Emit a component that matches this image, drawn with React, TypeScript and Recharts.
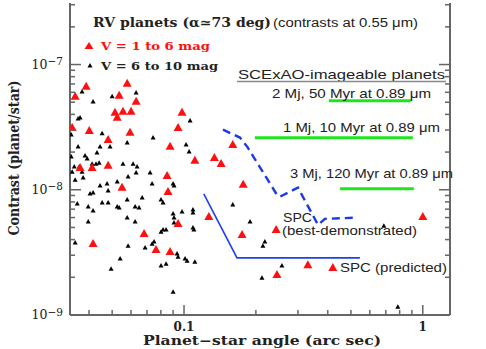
import { ComposedChart, Scatter, XAxis, YAxis } from "recharts";

// angular separation (arcsec), contrast (planet/star)
const brightStars: [number, number][] = [
  [0.035, 5.55e-8], [0.0389, 6.67e-8], [0.0578, 7.05e-8], [0.0535, 5.65e-8],
  [0.063, 5.06e-8], [0.0514, 4.13e-8], [0.0555, 4.21e-8], [0.06, 4.21e-8],
  [0.0525, 3.77e-8], [0.034, 3.13e-8], [0.0401, 2.96e-8], [0.0594, 2.86e-8],
  [0.0481, 2.51e-8], [0.0981, 4.13e-8], [0.0944, 3.13e-8], [0.0874, 2.21e-8],
  [0.111, 1.71e-8], [0.134, 1.8e-8], [0.143, 1.61e-8], [0.16, 2.29e-8],
  [0.0367, 1.5e-8], [0.0849, 1.29e-8], [0.0412, 1.5e-8], [0.0481, 1.56e-8],
  [0.055, 1.04e-8], [0.0857, 9.64e-9], [0.177, 1.1e-8], [0.127, 6.08e-9],
  [0.0944, 5.35e-9], [0.068, 4.45e-9], [0.0416, 3.7e-9], [0.0763, 3.31e-9],
  [0.0874, 3.19e-9], [0.175, 4.37e-9], [0.243, 4.79e-9], [0.245, 2.09e-9],
  [0.33, 2.51e-9], [0.42, 2.38e-9], [1.0, 6.08e-9],
];

const faintStars: [number, number][] = [
  [0.0374, 6.08e-8], [0.0416, 5.06e-8], [0.05, 5.55e-8], [0.063, 5.97e-8],
  [0.0367, 3.77e-8], [0.036, 3.7e-8], [0.0337, 2.75e-8], [0.0454, 2.81e-8],
  [0.0578, 2.38e-8], [0.0742, 2.61e-8], [0.106, 3.56e-8], [0.102, 2.29e-8],
  [0.105, 2.01e-8], [0.0445, 2.21e-8], [0.049, 2.21e-8], [0.036, 2.21e-8],
  [0.0385, 1.87e-8], [0.0393, 1.77e-8], [0.0432, 1.98e-8], [0.0441, 1.64e-8],
  [0.0428, 1.61e-8], [0.0412, 1.61e-8], [0.0347, 1.53e-8], [0.0364, 1.53e-8],
  [0.0555, 1.61e-8], [0.0612, 1.61e-8], [0.0636, 1.53e-8], [0.063, 1.37e-8],
  [0.0721, 1.37e-8], [0.0337, 1.84e-8], [0.034, 1.39e-8], [0.0374, 1.39e-8],
  [0.0583, 1.27e-8], [0.035, 1.2e-8], [0.0378, 1.25e-8], [0.0445, 1.08e-8],
  [0.0476, 1.12e-8], [0.0481, 9.82e-9], [0.0525, 1.16e-8], [0.0416, 9.46e-9],
  [0.0404, 9.29e-9], [0.0578, 8.32e-9], [0.0668, 8.63e-9], [0.0357, 7.73e-9],
  [0.0397, 7.31e-9], [0.0454, 7.87e-9], [0.0481, 7.87e-9], [0.0525, 7.31e-9],
  [0.0535, 7.18e-9], [0.0624, 7.31e-9], [0.0648, 7.18e-9], [0.0416, 6.79e-9],
  [0.0578, 5.97e-9], [0.0624, 5.55e-9], [0.0735, 1.12e-8], [0.09, 1.12e-8],
  [0.0908, 1.08e-8], [0.0801, 8.32e-9], [0.0817, 7.87e-9], [0.09, 6.43e-9],
  [0.0981, 6.67e-9], [0.0908, 5.97e-9], [0.0908, 5.45e-9], [0.109, 6.92e-9],
  [0.109, 6.55e-9], [0.109, 4.97e-9], [0.11, 4.79e-9], [0.0397, 5.55e-9],
  [0.035, 3.77e-9], [0.0583, 3.56e-9], [0.0687, 3.44e-9], [0.0735, 3.7e-9],
  [0.0749, 3.84e-9], [0.054, 2.81e-9], [0.0495, 2.33e-9], [0.0801, 2.47e-9],
  [0.0841, 2.56e-9], [0.0801, 4.61e-9], [0.0817, 4.79e-9], [0.0841, 4.79e-9],
  [0.0935, 3.08e-9], [0.0944, 2.91e-9], [0.101, 2.81e-9], [0.103, 2.7e-9],
  [0.111, 2.65e-9], [0.09, 1.53e-9], [0.16, 7.59e-9], [0.189, 5.55e-9],
  [0.214, 3.56e-9], [0.218, 3.84e-9], [0.257, 2.47e-9], [0.212, 1.98e-9],
  [0.687, 5.15e-9], [0.786, 1.16e-9],
];

const spcBest: [number, number][] = [
  [0.1456, 3.02e-8], [0.1715, 2.61e-8], [0.185, 2.17e-8], [0.245, 9.12e-9],
  [0.252, 8.79e-9], [0.3, 1.04e-8], [0.364, 5.25e-9], [0.389, 5.86e-9],
  [0.509, 5.97e-9],
];

const spcPredicted: [number, number][] = [
  [0.121, 9.29e-9], [0.1667, 2.86e-9], [0.545, 2.86e-9],
];

// SCExAO-imageable planet contrast levels
const trackStart = [0.404, 0.198, 0.45];
const trackEnd = [0.891, 0.908, 0.917];
const trackContrast = [5.15e-8, 2.6e-8, 1.02e-8];

const xTicks = [0.04, 0.05, 0.06, 0.07, 0.08, 0.09, 0.1, 0.2, 0.3, 0.4, 0.5, 0.6, 0.7, 0.8, 0.9, 1];
const yTicks = [
  1e-9, 2e-9, 3e-9, 4e-9, 5e-9, 6e-9, 7e-9, 8e-9, 9e-9,
  1e-8, 2e-8, 3e-8, 4e-8, 5e-8, 6e-8, 7e-8, 8e-8, 9e-8,
  1e-7, 2e-7, 3e-7,
];

const pts = (a: [number, number][]) => a.map(([x, y]) => ({ x, y }));
const isMajor = (v: number) => Math.abs(Math.log10(v) - Math.round(Math.log10(v))) < 1e-6;

const AXIS = "#666";
const SERIF = "'DejaVu Serif', serif";
const SANS = "'Liberation Sans', Arial, sans-serif";

const tri = (w: number, h: number, fill: string) => (p: any) => {
  const { cx, cy } = p;
  return (
    <polygon
      points={`${cx},${cy - h * 0.6} ${cx - w / 2},${cy + h * 0.4} ${cx + w / 2},${cy + h * 0.4}`}
      fill={fill}
    />
  );
};
const noDot = () => <g />;

const BottomTick = ({ x, y, payload }: any) => {
  const major = isMajor(payload.value);
  return (
    <g>
      <line x1={x} x2={x} y1={y} y2={y - (major ? 10 : 5)} stroke={AXIS} strokeWidth={1.5} />
      {major && (
        <text x={x} y={y + 16} textAnchor="middle" fontFamily={SERIF} fontWeight="bold" fontSize={12} fill="#222">
          {payload.value >= 1 ? "1" : String(payload.value)}
        </text>
      )}
    </g>
  );
};

const TopTick = ({ x, y, payload }: any) => {
  const major = isMajor(payload.value);
  return <line x1={x} x2={x} y1={y} y2={y + (major ? 10 : 5)} stroke={AXIS} strokeWidth={1.5} />;
};

const LeftTick = ({ x, y, payload }: any) => {
  const major = isMajor(payload.value);
  const exp = Math.round(Math.log10(payload.value));
  return (
    <g>
      <line x1={x} x2={x + (major ? 11 : 5)} y1={y} y2={y} stroke={AXIS} strokeWidth={1.5} />
      {major && (
        <text x={x - 7} y={y + 4} textAnchor="end" fontFamily={SERIF} fontSize={12.5} fill="#222">
          <tspan>10</tspan>
          <tspan dy={-3.5} fontSize={10.5}>{"\u2212" + Math.abs(exp)}</tspan>
        </text>
      )}
    </g>
  );
};

const RightTick = ({ x, y, payload }: any) => {
  const major = isMajor(payload.value);
  return <line x1={x} x2={x - (major ? 11 : 5)} y1={y} y2={y} stroke={AXIS} strokeWidth={1.5} />;
};

const X_DOMAIN = [0.0333, 1.3];
const Y_DOMAIN = [1e-9, 3.1e-7];

export default function App() {
  return (
    <div style={{ position: "absolute", left: 0, top: 0, width: 486, height: 349, background: "#fff" }}>
      <ComposedChart width={486} height={349} margin={{ top: 3, right: 0, bottom: 0, left: 0 }}>
        <XAxis
          xAxisId="b" dataKey="x" type="number" scale="log" domain={X_DOMAIN} allowDataOverflow
          ticks={xTicks} interval={0} height={34} tickSize={0} tickMargin={0}
          axisLine={{ stroke: AXIS, strokeWidth: 2 }} tickLine={false} tick={<BottomTick />}
        />
        <XAxis
          xAxisId="t" orientation="top" type="number" scale="log" domain={X_DOMAIN} allowDataOverflow
          ticks={xTicks} interval={0} height={0} tickSize={0} tickMargin={0}
          axisLine={{ stroke: AXIS, strokeWidth: 2 }} tickLine={false} tick={<TopTick />}
        />
        <YAxis
          yAxisId="l" dataKey="y" type="number" scale="log" domain={Y_DOMAIN} allowDataOverflow
          ticks={yTicks} interval={0} width={70} tickSize={0} tickMargin={0}
          axisLine={{ stroke: AXIS, strokeWidth: 2 }} tickLine={false} tick={<LeftTick />}
        />
        <YAxis
          yAxisId="r" orientation="right" type="number" scale="log" domain={Y_DOMAIN} allowDataOverflow
          ticks={yTicks} interval={0} width={36} tickSize={0} tickMargin={0}
          axisLine={{ stroke: AXIS, strokeWidth: 2 }} tickLine={false} tick={<RightTick />}
        />
        {trackContrast.map((c, i) => (
          <Scatter
            key={"trk" + i} xAxisId="b" yAxisId="l"
            data={[{ x: trackStart[i], y: c }, { x: trackEnd[i], y: c }]}
            line={{ stroke: "#1ee61e", strokeWidth: 3 }} lineType="joint" shape={noDot}
            isAnimationActive={false}
          />
        ))}
        <Scatter
          xAxisId="b" yAxisId="l" data={pts(spcPredicted)}
          line={{ stroke: "#2040f0", strokeWidth: 1.6 }} lineType="joint" shape={noDot}
          isAnimationActive={false}
        />
        <Scatter
          xAxisId="b" yAxisId="l" data={pts(spcBest)}
          line={{ stroke: "#1a3ae8", strokeWidth: 2.4, strokeDasharray: "8 5" }} lineType="joint" shape={noDot}
          isAnimationActive={false}
        />
        <Scatter xAxisId="b" yAxisId="l" data={pts(faintStars)} shape={tri(5, 4.5, "#000")} isAnimationActive={false} />
        <Scatter xAxisId="b" yAxisId="l" data={pts(brightStars)} shape={tri(9, 8, "#ff1010")} isAnimationActive={false} />
      </ComposedChart>
      <svg width={486} height={349} style={{ position: "absolute", left: 0, top: 0, pointerEvents: "none" }}>
        <text x={93} y={27} fontFamily={SERIF} fontWeight="bold" fontSize={12.5} fill="#222" textLength={178} lengthAdjust="spacingAndGlyphs">
          RV planets (α≃73 deg)
        </text>
        <text x={273} y={26.5} fontFamily={SANS} fontSize={12.5} fill="#222" textLength={145} lengthAdjust="spacingAndGlyphs">
          (contrasts at 0.55 μm)
        </text>
        <polygon points="89,42 84.5,49 93.5,49" fill="#ff1010" />
        <text x={101} y={50} fontFamily={SERIF} fontWeight="bold" fontSize={11.5} fill="#ff1010" textLength={109} lengthAdjust="spacingAndGlyphs">
          V = 1 to 6 mag
        </text>
        <polygon points="90,63 87.5,67.5 92.5,67.5" fill="#000" />
        <text x={101} y={70} fontFamily={SERIF} fontWeight="bold" fontSize={11.5} fill="#222" textLength={117} lengthAdjust="spacingAndGlyphs">
          V = 6 to 10 mag
        </text>
        <text x={238} y={79} fontFamily={SANS} fontSize={13} fill="#222" textLength={207} lengthAdjust="spacingAndGlyphs">
          SCExAO-imageable planets
        </text>
        <line x1={237} x2={446} y1={81.5} y2={81.5} stroke="#888" strokeWidth={1.5} />
        <text x={272} y={98} fontFamily={SANS} fontSize={13} fill="#222" textLength={159} lengthAdjust="spacingAndGlyphs">
          2 Mj, 50 Myr at 0.89 μm
        </text>
        <text x={283} y={132} fontFamily={SANS} fontSize={13} fill="#222" textLength={157} lengthAdjust="spacingAndGlyphs">
          1 Mj, 10 Myr at 0.89 μm
        </text>
        <text x={290} y={178} fontFamily={SANS} fontSize={13} fill="#222" textLength={163} lengthAdjust="spacingAndGlyphs">
          3 Mj, 120 Myr at 0.89 μm
        </text>
        <text x={283} y={222} fontFamily={SANS} fontSize={12.5} fill="#222" textLength={29} lengthAdjust="spacingAndGlyphs">
          SPC
        </text>
        <text x={282} y={235} fontFamily={SANS} fontSize={12.5} fill="#222" textLength={135} lengthAdjust="spacingAndGlyphs">
          (best-demonstrated)
        </text>
        <text x={340} y={272} fontFamily={SANS} fontSize={12.5} fill="#222" textLength={107} lengthAdjust="spacingAndGlyphs">
          SPC (predicted)
        </text>
        <text x={262} y={345} textAnchor="middle" fontFamily={SERIF} fontWeight="bold" fontSize={12.5} fill="#222" textLength={238} lengthAdjust="spacingAndGlyphs">
          Planet−star angle (arc sec)
        </text>
        <text
          transform="translate(19,158) rotate(-90)" x={0} y={0} textAnchor="middle"
          fontFamily={SERIF} fontWeight="bold" fontSize={15} fill="#222" textLength={155} lengthAdjust="spacingAndGlyphs"
        >
          Contrast (planet/star)
        </text>
      </svg>
    </div>
  );
}
